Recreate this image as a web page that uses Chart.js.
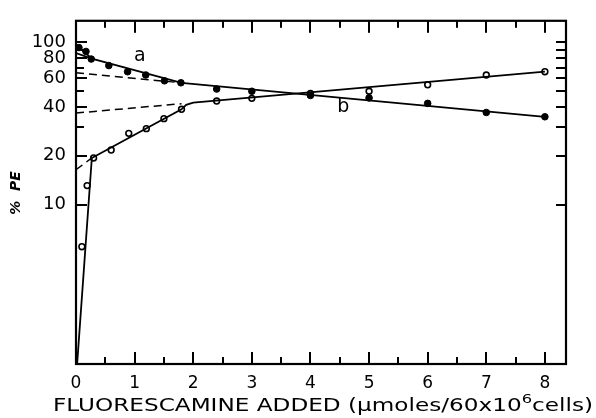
<!DOCTYPE html>
<html>
<head>
<meta charset="utf-8">
<script src="https://cdn.jsdelivr.net/npm/chart.js@4.4.1/dist/chart.umd.min.js"></script>
<style>
  html, body { margin: 0; padding: 0; background: #fff; }
  #wrap { width: 596px; height: 418px; }
</style>
</head>
<body>
<div id="wrap"><canvas id="chart" width="596" height="418"></canvas></div>
<script>
// tick labels
const xTickLabels = [0, 1, 2, 3, 4, 5, 6, 7, 8];
const yTickLabels = [10, 20, 40, 60, 80, 100];
// tick marks (inside the frame)
const xTickMarks = [0.5, 1, 1.5, 2, 2.5, 3, 3.5, 4, 4.5, 5, 5.5, 6, 6.5, 7, 7.5, 8];
const yTickMarks = [10, 20, 30, 40, 50, 60, 70, 80, 90, 100];

// measured points, curve a (filled) and curve b (open)
const doseA = [0.05, 0.17, 0.26, 0.56, 0.88, 1.19, 1.51, 1.79, 2.4, 3, 4, 5, 6, 7, 8];
const peA = [93, 88, 79, 72, 66, 63, 58, 56.4, 51.6, 50, 47.1, 45.5, 42.1, 37, 34.8];
const doseB = [0.1, 0.19, 0.3, 0.6, 0.9, 1.2, 1.5, 1.8, 2.4, 3, 4, 5, 6, 7, 8];
const peB = [5.5, 13.1, 19.4, 21.7, 27.5, 29.4, 33.9, 38.7, 43.5, 45.2, 48.4, 50, 54.8, 63, 66];

// hand drawn fit lines
const fitAx = [0, 0.07, 0.27, 1.8, 8];
const fitAy = [96, 92, 79.5, 56.4, 34.8];
const fitA0x = [0, 0.27];
const fitA0y = [86, 79.5];
const fitBx = [0.02, 0.27, 1.8, 1.88, 2.0, 8];
const fitBy = [1.05, 19.4, 38.7, 41.2, 42.5, 66];
// dashed extrapolations back to zero
const dashAx = [0, 1.8];
const dashAy = [65, 56.4];
const dashBx = [0, 1.8];
const dashBy = [36.7, 41.9];
const dashCx = [0, 0.27];
const dashCy = [16.4, 19.4];

// curve letters
const curveNames = ["a", "b"];
const curveNameX = [1.09, 4.56];
const curveNameY = [82, 40];

const pts = (xs, ys) => xs.map((x, i) => ({ x, y: ys[i] }));
const FONT = "'DejaVu Sans', sans-serif";

const solid = (d) => ({ data: d, showLine: true, borderColor: "#000", borderWidth: 1.8,
  pointRadius: 0, fill: false, tension: 0 });
const dashed = (d) => ({ ...solid(d), borderWidth: 1.5, borderDash: [8, 5] });

const frame = {
  id: "frame",
  afterDraw(chart) {
    const { ctx, chartArea: a, scales: { x, y } } = chart;
    ctx.save();
    ctx.setLineDash([]);
    ctx.strokeStyle = "#000";
    ctx.fillStyle = "#000";
    ctx.lineWidth = 2.2;
    ctx.strokeRect(a.left, a.top, a.right - a.left, a.bottom - a.top);
    // ticks as small filled bars
    xTickMarks.forEach((v) => {
      const px = Math.round(x.getPixelForValue(v));
      const len = Number.isInteger(v) ? 12 : 7;
      ctx.fillRect(px - 1, a.bottom - len, 2, len);
      ctx.fillRect(px - 1, a.top, 2, len);
    });
    yTickMarks.forEach((v) => {
      const py = Math.round(y.getPixelForValue(v));
      const len = yTickLabels.includes(v) ? 11 : 8;
      ctx.fillRect(a.left, py - 1, len, 2);
      ctx.fillRect(a.right - 10, py - 1, 10, 2);
    });

    ctx.textAlign = "center";
    ctx.textBaseline = "middle";
    ctx.font = "19px " + FONT;
    curveNames.forEach((t, i) =>
      ctx.fillText(t, x.getPixelForValue(curveNameX[i]), y.getPixelForValue(curveNameY[i])));

    // y title
    ctx.save();
    ctx.translate(16, 193);
    ctx.rotate(-Math.PI / 2);
    ctx.font = "italic bold 14px " + FONT;
    ctx.fillText("%  PE", 0, 0);
    ctx.restore();

    // x title, stretched to the width of the original lettering
    const parts = ["FLUORESCAMINE ADDED (\u03bcmoles/60x10", "6", "cells)"];
    const big = "17px " + FONT, small = "12px " + FONT;
    ctx.font = big; const w0 = ctx.measureText(parts[0]).width;
    const w2 = ctx.measureText(parts[2]).width;
    ctx.font = small; const w1 = ctx.measureText(parts[1]).width;
    const total = w0 + w1 + w2, target = 540;
    ctx.save();
    ctx.translate(53, 405);
    ctx.scale(target / total, 1);
    ctx.textAlign = "left";
    ctx.textBaseline = "alphabetic";
    ctx.font = big; ctx.fillText(parts[0], 0, 6);
    ctx.font = small; ctx.fillText(parts[1], w0, -2);
    ctx.font = big; ctx.fillText(parts[2], w0 + w1, 6);
    ctx.restore();
    ctx.restore();
  }
};

new Chart(document.getElementById("chart"), {
  type: "scatter",
  data: {
    datasets: [
      solid(pts(fitAx, fitAy)),
      solid(pts(fitA0x, fitA0y)),
      solid(pts(fitBx, fitBy)),
      dashed(pts(dashAx, dashAy)),
      dashed(pts(dashBx, dashBy)),
      dashed(pts(dashCx, dashCy)),
      { data: pts(doseA, peA), pointRadius: 3.3, pointBackgroundColor: "#000",
        pointBorderColor: "#000", pointBorderWidth: 1 },
      { data: pts(doseB, peB), pointRadius: 2.9, pointBackgroundColor: "#fff",
        pointBorderColor: "#000", pointBorderWidth: 1.6 },
    ],
  },
  options: {
    responsive: false, animation: false, devicePixelRatio: 1,
    layout: { padding: { top: 13, right: 30, left: 0, bottom: 0 } },
    plugins: { legend: { display: false }, tooltip: { enabled: false } },
    scales: {
      x: {
        type: "linear", min: 0, max: 8.36,
        afterFit: (s) => { s.height = 54; },
        afterBuildTicks: (s) => { s.ticks = xTickLabels.map((v) => ({ value: v })); },
        grid: { display: false, drawTicks: false }, border: { display: false },
        ticks: { padding: 9, color: "#000", font: { family: FONT, size: 17 } },
      },
      y: {
        type: "logarithmic", min: 1.04, max: 136,
        afterFit: (s) => { s.width = 76; },
        afterBuildTicks: (s) => { s.ticks = yTickLabels.map((v) => ({ value: v })); },
        grid: { display: false, drawTicks: false }, border: { display: false },
        ticks: { padding: 10, color: "#000", autoSkip: false,
          font: { family: FONT, size: 18 }, callback: (v) => String(v) },
      },
    },
  },
  plugins: [frame],
});
</script>
</body>
</html>
